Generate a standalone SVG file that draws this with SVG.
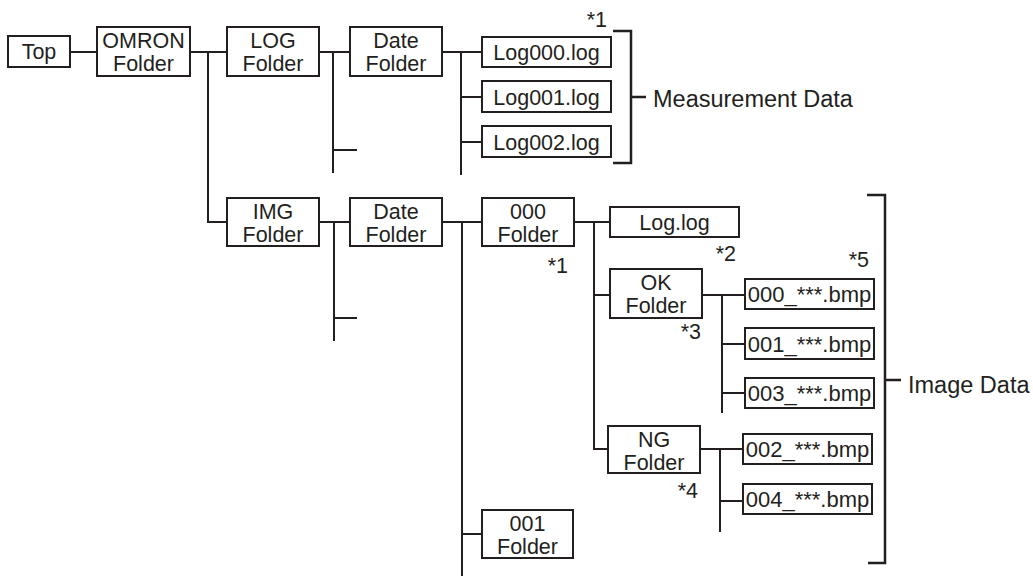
<svg xmlns="http://www.w3.org/2000/svg" width="1033" height="576" viewBox="0 0 1033 576">
<style>
rect.n{fill:#fff;stroke:#231f20;stroke-width:2}
text{font-family:"Liberation Sans",Arial,sans-serif;font-size:21.5px;fill:#231f20;text-anchor:middle}
text.s{text-anchor:end}
text.l{text-anchor:start;font-size:23.5px}
text.b{font-size:22px}
#connectors path{fill:none;stroke:#231f20;stroke-width:2}
#brackets path{fill:none;stroke:#231f20;stroke-width:2.5}
</style>
<rect width="1033" height="576" fill="#fff"/>
<g id="connectors">
<path d="M70 52H97"/>
<path d="M190 52H227M208 52V222H227"/>
<path d="M319 52H350M333 52V173M333 150H357"/>
<path d="M442 52H482M461 52V175M461 97H482M461 142H482"/>
<path d="M319 222H350M334 221V341M334 318H357"/>
<path d="M442 222H482M462 222V576M462 534H482"/>
<path d="M574 222H610M594 222V449H608M594 295H610"/>
<path d="M702 295H745M722 295V413M722 344H745M722 393H745"/>
<path d="M700 449H743M720 449V532M720 501H743"/>
</g>
<g id="brackets">
<path d="M613 31H631V163H613M631 97H646"/>
<path d="M867 195H885V563H868M885 380H901"/>
</g>
<g id="top"><rect class="n" x="8" y="36" width="62" height="31"/><text x="39" y="59">Top</text></g>
<g id="omron"><rect class="n" x="97" y="27" width="93" height="49"/><text x="143.5" y="48">OMRON</text><text x="143.5" y="71">Folder</text></g>
<g id="log"><rect class="n" x="227" y="27" width="92" height="49"/><text x="273" y="48">LOG</text><text x="273" y="71">Folder</text></g>
<g id="date1"><rect class="n" x="350" y="27" width="92" height="49"/><text x="396" y="48">Date</text><text x="396" y="71">Folder</text></g>
<g id="log000"><rect class="n" x="482" y="37" width="129" height="30"/><text x="546.5" y="60">Log000.log</text></g>
<g id="log001"><rect class="n" x="482" y="81" width="129" height="31"/><text x="546.5" y="105">Log001.log</text></g>
<g id="log002"><rect class="n" x="482" y="126" width="129" height="31"/><text x="546.5" y="150">Log002.log</text></g>
<text class="s" x="607" y="27">*1</text>
<text class="l" x="653" y="107">Measurement Data</text>
<g id="img"><rect class="n" x="227" y="198" width="92" height="48"/><text x="273" y="219">IMG</text><text x="273" y="242">Folder</text></g>
<g id="date2"><rect class="n" x="350" y="198" width="92" height="48"/><text x="396" y="219">Date</text><text x="396" y="242">Folder</text></g>
<g id="f000"><rect class="n" x="482" y="198" width="92" height="48"/><text x="528" y="219">000</text><text x="528" y="242">Folder</text></g>
<text class="s" x="568" y="273">*1</text>
<g id="loglog"><rect class="n" x="610" y="207" width="129" height="30"/><text x="674.5" y="230">Log.log</text></g>
<text class="s" x="736" y="261">*2</text>
<text class="s" x="869" y="267">*5</text>
<g id="ok"><rect class="n" x="610" y="269" width="92" height="49"/><text x="656" y="290">OK</text><text x="656" y="313">Folder</text></g>
<text class="s" x="701" y="339">*3</text>
<g id="b000"><rect class="n" x="745" y="279" width="129" height="30"/><text class="b" x="809.5" y="302">000_***.bmp</text></g>
<g id="b001"><rect class="n" x="745" y="328" width="129" height="31"/><text class="b" x="809.5" y="352">001_***.bmp</text></g>
<g id="b003"><rect class="n" x="745" y="378" width="129" height="30"/><text class="b" x="809.5" y="401">003_***.bmp</text></g>
<text class="l" x="908" y="393">Image Data</text>
<g id="ng"><rect class="n" x="608" y="426" width="92" height="47"/><text x="654" y="447">NG</text><text x="654" y="470">Folder</text></g>
<text class="s" x="698" y="498">*4</text>
<g id="b002"><rect class="n" x="743" y="434" width="129" height="30"/><text class="b" x="807.5" y="457">002_***.bmp</text></g>
<g id="b004"><rect class="n" x="743" y="484" width="129" height="30"/><text class="b" x="807.5" y="507">004_***.bmp</text></g>
<g id="f001"><rect class="n" x="482" y="510" width="91" height="48"/><text x="527.5" y="531">001</text><text x="527.5" y="554">Folder</text></g>
</svg>
